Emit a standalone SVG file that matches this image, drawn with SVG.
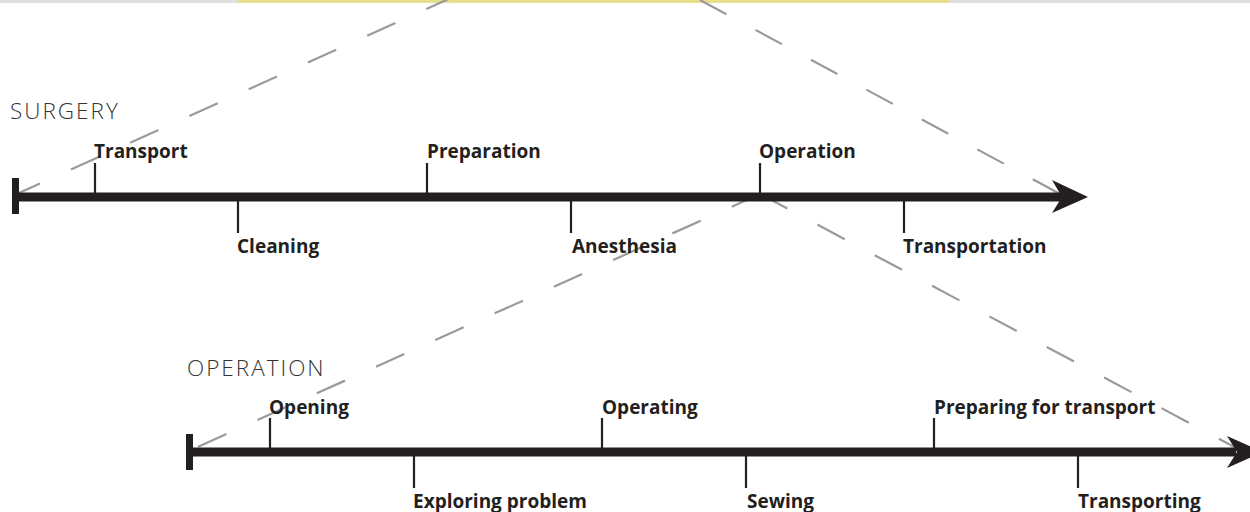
<svg xmlns="http://www.w3.org/2000/svg" width="1250" height="512" viewBox="0 0 1250 512">
<defs>
<style>
.bg{fill:#ffffff}
.axis{stroke:#231f20;stroke-width:9;fill:none}
.bar{fill:#231f20}
.tick{stroke:#231f20;stroke-width:2.2;fill:none}
.dash{stroke:#9a9a9a;stroke-width:2.2;fill:none;stroke-dasharray:31 34}
.lbl{font-family:"Open Sans","Noto Sans","Liberation Sans",sans-serif;font-weight:700;font-size:19px;fill:#231f20}
.title{font-family:"Open Sans","Noto Sans","Liberation Sans",sans-serif;font-weight:300;font-size:22.5px;letter-spacing:2px;fill:#333333}
</style>
</defs>
<rect class="bg" x="0" y="0" width="1250" height="512"/>
<g id="topbar">
<rect x="0" y="0" width="1250" height="3" fill="#dfe0dc"/>
<rect x="238" y="0" width="712" height="3" fill="#e6e08e"/>
</g>
<g id="connectors">
<path class="dash" d="M19,193 L453,-3" style="stroke-dashoffset:8"/>
<path class="dash" d="M700,0 L1062,195" style="stroke-dasharray:30 33"/>
<path class="dash" d="M760,194 L193,449"/>
<path class="dash" d="M760,194 L1240,450"/>
</g>
<g id="surgery-timeline">
<text class="title" x="10" y="119">SURGERY</text>
<rect class="bar" x="12" y="178" width="7" height="36"/>
<line class="axis" x1="16" y1="197" x2="1062" y2="197"/>
<polygon class="bar" points="1088,197 1052,180 1062,197 1052,213"/>
</g>
<g id="surgery-transport">
<line class="tick" x1="95" y1="163" x2="95" y2="197"/>
<text class="lbl" x="94" y="158">Transport</text>
</g>
<g id="surgery-cleaning">
<line class="tick" x1="238" y1="197" x2="238" y2="233"/>
<text class="lbl" x="237" y="253">Cleaning</text>
</g>
<g id="surgery-preparation">
<line class="tick" x1="427" y1="163" x2="427" y2="197"/>
<text class="lbl" x="427" y="158">Preparation</text>
</g>
<g id="surgery-anesthesia">
<line class="tick" x1="571" y1="197" x2="571" y2="233"/>
<text class="lbl" x="572" y="253">Anesthesia</text>
</g>
<g id="surgery-operation">
<line class="tick" x1="760" y1="163" x2="760" y2="197"/>
<text class="lbl" x="759" y="158">Operation</text>
</g>
<g id="surgery-transportation">
<line class="tick" x1="904" y1="197" x2="904" y2="233"/>
<text class="lbl" x="903" y="253">Transportation</text>
</g>
<g id="operation-timeline">
<text class="title" x="187" y="376">OPERATION</text>
<rect class="bar" x="186" y="434" width="7" height="36"/>
<line class="axis" x1="190" y1="452" x2="1236" y2="452"/>
<polygon class="bar" points="1263,452 1227,436 1237,452 1227,468"/>
</g>
<g id="operation-opening">
<line class="tick" x1="270" y1="418" x2="270" y2="452"/>
<text class="lbl" x="269" y="414">Opening</text>
</g>
<g id="operation-exploring">
<line class="tick" x1="414" y1="452" x2="414" y2="488"/>
<text class="lbl" x="413" y="508">Exploring problem</text>
</g>
<g id="operation-operating">
<line class="tick" x1="602" y1="418" x2="602" y2="452"/>
<text class="lbl" x="602" y="414">Operating</text>
</g>
<g id="operation-sewing">
<line class="tick" x1="746" y1="452" x2="746" y2="488"/>
<text class="lbl" x="747" y="508">Sewing</text>
</g>
<g id="operation-preparing">
<line class="tick" x1="934" y1="418" x2="934" y2="452"/>
<text class="lbl" x="934" y="414">Preparing for transport</text>
</g>
<g id="operation-transporting">
<line class="tick" x1="1078" y1="452" x2="1078" y2="488"/>
<text class="lbl" x="1078" y="508">Transporting</text>
</g>
</svg>
